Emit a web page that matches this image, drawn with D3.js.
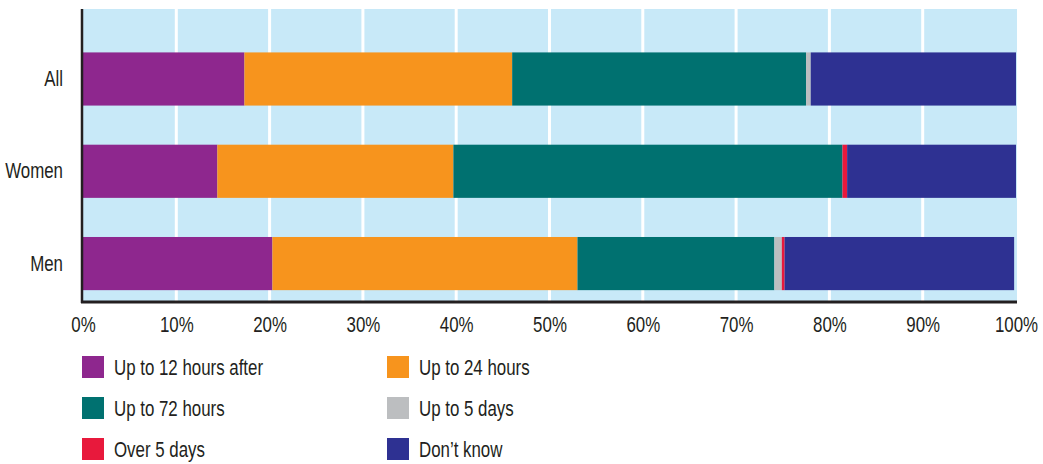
<!DOCTYPE html>
<html>
<head>
<meta charset="utf-8">
<script src="https://cdn.jsdelivr.net/npm/d3@7"></script>
<style>
  html, body { margin: 0; padding: 0; background: #ffffff; }
  svg { display: block; }
  text { font-family: "Liberation Sans", Arial, sans-serif; fill: #231F20; }
</style>
</head>
<body>
<svg id="chart" width="1043" height="464"></svg>
<script>
const categories = ["All", "Women", "Men"];
const seriesNames = ["Up to 12 hours after", "Up to 24 hours", "Up to 72 hours", "Up to 5 days", "Over 5 days", "Don\u2019t know"];
const upTo12h  = [17.3, 14.4, 20.3];
const upTo24h  = [28.7, 25.3, 32.7];
const upTo72h  = [31.5, 41.7, 21.1];
const upTo5d   = [0.5, 0.0, 0.8];
const over5d   = [0.0, 0.5, 0.3];
const dontKnow = [22.0, 18.1, 24.6];
const tickValues = [0, 10, 20, 30, 40, 50, 60, 70, 80, 90, 100];
const tickLabels = ["0%", "10%", "20%", "30%", "40%", "50%", "60%", "70%", "80%", "90%", "100%"];

const colors = ["#8E278E", "#F7941D", "#007170", "#BCBEC0", "#E8193C", "#2E3192"];
const seriesValues = [upTo12h, upTo24h, upTo72h, upTo5d, over5d, dontKnow];

const rows = categories.map((c, i) => {
  const r = { cat: c };
  seriesNames.forEach((s, j) => r[s] = seriesValues[j][i]);
  return r;
});

const FS = 22.5;     // font size
const SX = 0.75;     // horizontal condensing to mimic a condensed face

const svg = d3.select("#chart");
const pLeft = 83, pRight = 1016, pTop = 9, pBottom = 301;

const x = d3.scaleLinear().domain([0, 100]).range([pLeft, pRight]);
const y = d3.scaleBand().domain(categories).range([pTop, pBottom])
  .paddingInner(0.424).paddingOuter(0.294).align(0.8);

// background
svg.append("rect").attr("x", pLeft).attr("y", pTop)
  .attr("width", pRight - pLeft + 1).attr("height", pBottom - pTop)
  .attr("fill", "#C8E9F8");

// gridlines
svg.append("g").selectAll("line")
  .data(tickValues.filter(v => v > 0 && v < 100))
  .join("line")
  .attr("x1", d => x(d)).attr("x2", d => x(d))
  .attr("y1", pTop).attr("y2", pBottom)
  .attr("stroke", "#ffffff").attr("stroke-width", 3);

// stacked bars
const stack = d3.stack().keys(seriesNames);
const layers = stack(rows);
svg.append("g").selectAll("g")
  .data(layers)
  .join("g")
  .attr("fill", (d, i) => colors[i])
  .selectAll("rect")
  .data(d => d.filter(p => p[1] - p[0] > 0))
  .join("rect")
  .attr("x", d => x(d[0]))
  .attr("width", d => x(d[1]) - x(d[0]))
  .attr("y", d => y(d.data.cat))
  .attr("height", y.bandwidth());

// axes lines
svg.append("line").attr("x1", pLeft - 1).attr("x2", pLeft - 1)
  .attr("y1", pTop).attr("y2", pBottom + 2)
  .attr("stroke", "#231F20").attr("stroke-width", 2.5);
svg.append("line").attr("x1", pLeft - 2).attr("x2", pRight + 1)
  .attr("y1", pBottom + 1).attr("y2", pBottom + 1)
  .attr("stroke", "#231F20").attr("stroke-width", 3);

// x-axis labels
const xAxis = d3.axisBottom(x).tickValues(tickValues)
  .tickFormat((d, i) => tickLabels[i]).tickSize(0).tickPadding(14);
const gx = svg.append("g").attr("transform", `translate(0,${pBottom + 1})`).call(xAxis);
gx.select(".domain").remove();
gx.attr("font-family", null).attr("font-size", null);
gx.selectAll("text").attr("font-size", FS).attr("transform", `scale(${SX},1)`);

// y-axis labels
const yAxis = d3.axisLeft(y).tickSize(0).tickPadding(20);
const gy = svg.append("g").attr("transform", `translate(${pLeft},0)`).call(yAxis);
gy.select(".domain").remove();
gy.attr("font-family", null).attr("font-size", null);
gy.selectAll("text").attr("font-size", FS).attr("x", -20 / SX)
  .attr("transform", `scale(${SX},1)`);

// legend
const legendX = [82, 387];
const legendRowY = [367, 408, 449];
const leg = svg.append("g").selectAll("g")
  .data(seriesNames)
  .join("g")
  .attr("transform", (d, i) => `translate(${legendX[i % 2]},${legendRowY[Math.floor(i / 2)]})`);
leg.append("rect").attr("x", 0).attr("y", -11).attr("width", 22).attr("height", 22)
  .attr("fill", (d, i) => colors[i]);
leg.append("text").attr("transform", `translate(32,0) scale(${SX},1)`)
  .attr("dy", "0.35em").attr("font-size", FS).text(d => d);
</script>
</body>
</html>
